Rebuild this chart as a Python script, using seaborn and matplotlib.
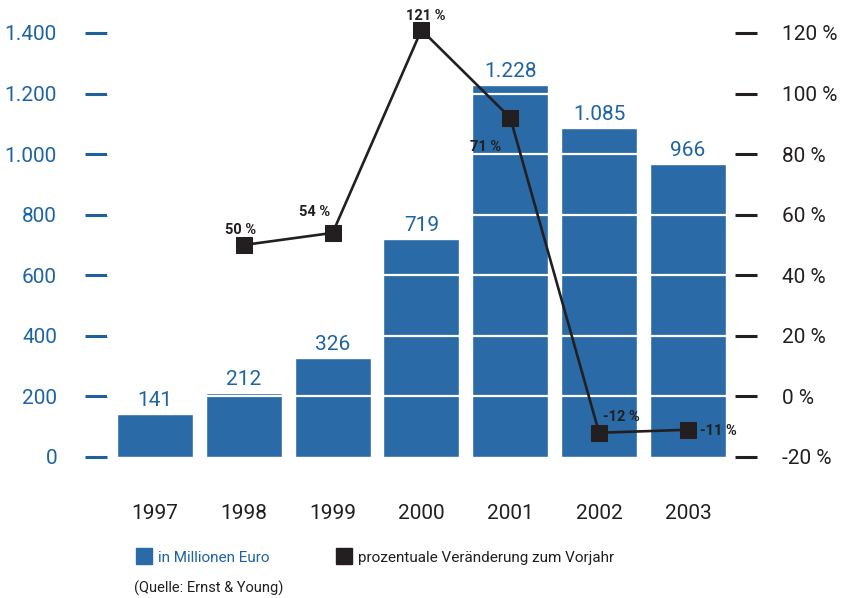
import matplotlib
matplotlib.use("Agg")
import matplotlib.pyplot as plt
import seaborn as sns
import pandas as pd
import numpy as np
from matplotlib.lines import Line2D

# data
years = ["1997", "1998", "1999", "2000", "2001", "2002", "2003"]
umsatz = [141, 212, 326, 719, 1228, 1085, 966]
umsatz_labels = ["141", "212", "326", "719", "1.228", "1.085", "966"]

pct_years = ["1998", "1999", "2000", "2001", "2002", "2003"]
pct_values = [50, 54, 121, 92, -12, -11]          # where the markers sit
pct_labels = ["50 %", "54 %", "121 %", "71 %", "-12 %", "-11 %"]

left_ticks = [0, 200, 400, 600, 800, 1000, 1200, 1400]
left_ticklabels = ["0", "200", "400", "600", "800", "1.000", "1.200", "1.400"]
right_ticks = [-20, 0, 20, 40, 60, 80, 100, 120]
right_ticklabels = ["-20 %", "0 %", "20 %", "40 %", "60 %", "80 %", "100 %", "120 %"]

BLUE = "#2a6aa6"
TXTBLUE = "#1f64a2"
DARK = "#231f20"

sns.set_style("white")
plt.rcParams["font.family"] = ["Roboto", "DejaVu Sans"]

df = pd.DataFrame({"Jahr": years, "Umsatz": umsatz})
dfp = pd.DataFrame({"pos": [years.index(y) for y in pct_years], "pct": pct_values})

fig = plt.figure(figsize=(8.47, 5.98), dpi=100)
ax = fig.add_axes([107 / 847, 1 - 457 / 598, 628 / 847, 424 / 598])

sns.barplot(data=df, x="Jahr", y="Umsatz", color=BLUE, width=0.855,
            saturation=1, ax=ax)
ax.bar_label(ax.containers[0], labels=umsatz_labels, padding=3,
             color=TXTBLUE, fontsize=15, zorder=5)

# white lines across the bars
for t in left_ticks[1:]:
    ax.axhline(t, color="white", lw=1.6, zorder=3)

ax.set_xlim(-0.54, 6.53)
ax.set_ylim(0, 1400)
ax.set_yticks(left_ticks)
ax.set_yticklabels(left_ticklabels)
ax.tick_params(axis="y", direction="out", length=16, width=2.2, color="#1f5f9e",
               pad=20, labelsize=15, labelcolor=TXTBLUE)
ax.tick_params(axis="x", length=0, pad=34, labelsize=15, labelcolor=DARK)
ax.set_xlabel("")
ax.set_ylabel("")
sns.despine(ax=ax, left=True, bottom=True)

ax2 = ax.twinx()
sns.lineplot(data=dfp, x="pos", y="pct", color=DARK, lw=1.9, marker="s",
             markersize=12, markeredgecolor=DARK, ax=ax2, clip_on=False)
ax2.set_ylim(-20, 120)
ax2.set_yticks(right_ticks)
ax2.set_yticklabels(right_ticklabels)
ax2.tick_params(axis="y", direction="out", length=16, width=2.2, color=DARK,
                pad=18, labelsize=15, labelcolor=DARK)
ax2.set_xlabel("")
ax2.set_ylabel("")
for s in ax2.spines.values():
    s.set_visible(False)

offsets = [(-2, 11), (-13, 15), (3, 10), (-18, -21), (16, 11), (9, -1)]
aligns = ["center", "center", "center", "center", "center", "left"]
for x, y, lab, off, ha in zip(dfp["pos"], dfp["pct"], pct_labels, offsets, aligns):
    ax2.annotate(lab, (x, y), xytext=off, textcoords="offset points",
                 ha=ha, va="center", fontsize=10.5, fontweight="bold",
                 color=DARK, annotation_clip=False)

handles = [
    Line2D([], [], ls="none", marker="s", markersize=11, color=BLUE),
    Line2D([], [], ls="none", marker="s", markersize=11, color=DARK),
]
leg = fig.legend(handles, ["in Millionen Euro", "prozentuale Veränderung zum Vorjahr"],
                 loc="upper left", bbox_to_anchor=(129 / 847, 1 - 543 / 598),
                 ncol=2, frameon=False, fontsize=11, handlelength=0.9,
                 handletextpad=0.5, columnspacing=4.4, borderpad=0)
leg.get_texts()[0].set_color(TXTBLUE)
leg.get_texts()[1].set_color(DARK)

fig.text(134 / 847, 1 - 588 / 598, "(Quelle: Ernst & Young)", fontsize=10.5,
         color=DARK, va="center")

fig.savefig("out.png", dpi=100)
